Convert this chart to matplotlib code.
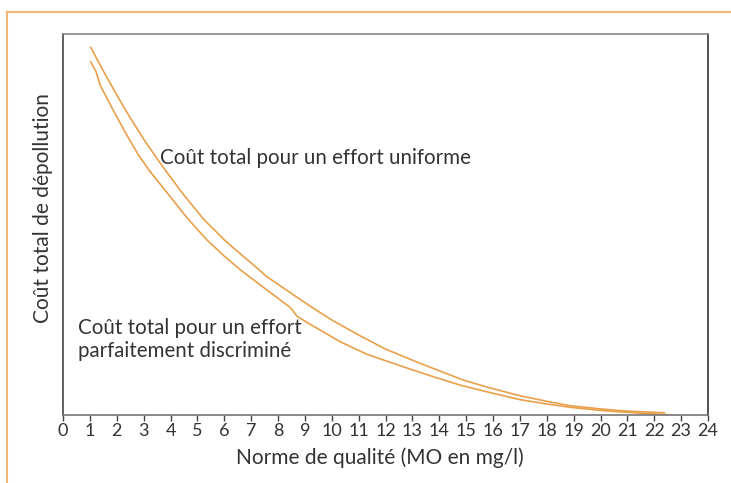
import numpy as np
import matplotlib
matplotlib.use("Agg")
import matplotlib.pyplot as plt
from matplotlib.lines import Line2D

plt.rcParams['font.family'] = ['Lato', 'DejaVu Sans']

# Coût total pour un effort uniforme
x_uniforme = [1.03, 1.5, 2.0, 2.5, 3.0, 3.5, 3.8, 4.48, 5.23, 6.0, 6.35, 7.0, 7.59, 8.58, 9.3,
              10.01, 11.0, 12.0, 13.31, 14.92, 16.0, 17.03, 18.0, 18.9, 20.0, 20.76, 21.5, 22.37]
y_uniforme = [96.5, 90.3, 84.0, 78.0, 72.4, 67.3, 64.3, 57.9, 51.4, 46.0, 43.8, 39.9, 36.3, 31.5, 28.1,
              24.9, 21.0, 17.3, 13.5, 9.1, 6.9, 5.0, 3.6, 2.4, 1.6, 1.13, 0.85, 0.6]

# Coût total pour un effort parfaitement discriminé
x_discrim = [1.03, 1.23, 1.38, 1.8, 2.3, 2.8, 3.24, 3.99, 4.61, 5.36, 6.0, 6.6, 7.59, 8.46, 8.71,
             9.08, 10.32, 11.32, 12.81, 13.8, 14.8, 16.0, 17.03, 18.0, 18.9, 20.0, 20.76, 21.7, 22.69]
y_discrim = [92.7, 90.1, 86.6, 80.9, 74.4, 68.3, 63.9, 57.3, 51.8, 45.9, 41.7, 38.1, 32.8, 28.2, 25.9,
             24.3, 19.2, 15.9, 12.3, 10.0, 7.8, 5.7, 4.0, 2.9, 2.0, 1.2, 0.8, 0.4, 0.0]

xticks = list(range(0, 25))

orange = '#E9A04B'
texte = '#333333'

fig = plt.figure(figsize=(7.31, 4.83), dpi=100)
ax = fig.add_axes([63/731, 68/483, 645/731, 381/483])

ax.plot(x_uniforme, y_uniforme, color=orange, lw=1.2, solid_joinstyle='round')
ax.plot(x_discrim, y_discrim, color=orange, lw=1.2, solid_joinstyle='round')

ax.set_xlim(0, 24)
ax.set_ylim(0, 100)
ax.set_xticks(xticks)
ax.set_xticklabels([str(t) for t in xticks], fontsize=13, color=texte)
ax.set_yticks([])
ax.tick_params(axis='x', direction='out', length=4, width=1, color='#444444', pad=2)

for nom, coul in [('left', '#444444'), ('bottom', '#777777'), ('top', '#888888'), ('right', '#333333')]:
    ax.spines[nom].set_color(coul)
    ax.spines[nom].set_linewidth(1.2)

ax.set_xlabel("Norme de qualité (MO en mg/l)", fontsize=15, color=texte)
ax.set_ylabel("Coût total de dépollution", fontsize=15, color=texte)
ax.xaxis.set_label_coords(0.491, -0.085)
ax.yaxis.set_label_coords(-0.016, 0.543)

ax.text(3.6, 67.5, "Coût total pour un effort uniforme", fontsize=14.8, color=texte, va='center')
ax.text(0.55, 19.8, "Coût total pour un effort\nparfaitement discriminé", fontsize=14.8,
        color=texte, va='center', ha='left', linespacing=1.2)

# cadre orange décoratif
fig.add_artist(Line2D([7/731, 1], [1 - 12/483, 1 - 12/483], color='#F0B878', lw=1.5))
fig.add_artist(Line2D([7/731, 7/731], [0, 1 - 12/483], color='#F0B878', lw=1.5))

fig.savefig("out.png", dpi=100)
